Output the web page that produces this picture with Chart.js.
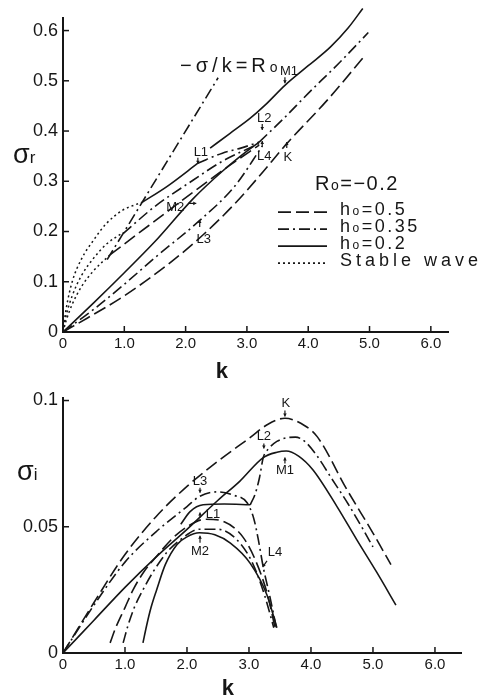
<!DOCTYPE html>
<html>
<head>
<meta charset="utf-8">
<script src="https://cdn.jsdelivr.net/npm/chart.js@4.4.1/dist/chart.umd.min.js"></script>
<style>
  html, body { margin: 0; padding: 0; background: #fff; }
  #wrap { position: relative; width: 501px; height: 699px; }
  canvas { position: absolute; left: 0; }
  #c1 { top: 0; }
  #c2 { top: 380px; }
</style>
</head>
<body>
<div id="wrap">
  <canvas id="c1" width="501" height="390"></canvas>
  <canvas id="c2" width="501" height="319"></canvas>
</div>
<script>
const INK = "#161616";
const FONT = '"Liberation Sans", Arial, sans-serif';

// ---- upper panel: sigma_r against k ----
const topXTicks = [0, 1, 2, 3, 4, 5, 6];
const topYTicks = [0, 0.1, 0.2, 0.3, 0.4, 0.5, 0.6];

// -sigma/k = Ro line (Ro = -0.2)
const ratioK = [0.72, 2.53];
const ratioS = [0.144, 0.506];

// stable waves (dotted)
const stab1K = [0, 0.05, 0.15, 0.3, 0.5, 0.7, 0.98, 1.15, 1.29];
const stab1S = [0, 0.045, 0.1, 0.145, 0.183, 0.215, 0.243, 0.252, 0.258];
const stab2K = [0, 0.05, 0.15, 0.3, 0.5, 0.7, 0.98];
const stab2S = [0, 0.032, 0.072, 0.112, 0.147, 0.174, 0.198];
const stab3K = [0, 0.05, 0.15, 0.3, 0.5, 0.77];
const stab3S = [0, 0.022, 0.055, 0.09, 0.122, 0.154];

// h0 = 0.2 (solid)
const sUpperK = [2.4, 2.72, 3.05, 3.3, 3.62, 4.0, 4.36, 4.65, 4.89];
const sUpperS = [0.366, 0.395, 0.425, 0.452, 0.491, 0.53, 0.567, 0.605, 0.644];
const sL1K = [1.29, 1.7, 2.2];
const sL1S = [0.258, 0.29, 0.336];
const sOriginK = [0, 0.5, 1.0, 1.5, 2.12, 2.6, 3.0, 3.2];
const sOriginS = [0, 0.058, 0.118, 0.18, 0.265, 0.32, 0.36, 0.378];

// h0 = 0.35 (dash-dot)
const ddL1K = [2.2, 2.6, 2.9, 3.2];
const ddL1S = [0.336, 0.356, 0.366, 0.378];
const ddMidK = [0.98, 1.5, 2.12, 2.6, 3.2];
const ddMidS = [0.196, 0.25, 0.302, 0.34, 0.375];
const ddOriginK = [0, 0.5, 1.0, 1.5, 2.23, 2.8, 3.25];
const ddOriginS = [0, 0.045, 0.095, 0.148, 0.222, 0.29, 0.37];
const ddUpperK = [3.2, 3.6, 4.0, 4.5, 4.98];
const ddUpperS = [0.378, 0.425, 0.475, 0.535, 0.596];

// h0 = 0.5 (dashed)
const dMidK = [0.77, 1.4, 2.12, 2.7, 3.2];
const dMidS = [0.154, 0.212, 0.278, 0.33, 0.372];
const dLowK = [0, 0.4, 1.0, 1.8, 2.3, 2.8, 3.2, 3.65, 4.3, 4.93];
const dLowS = [0, 0.028, 0.072, 0.143, 0.195, 0.255, 0.31, 0.375, 0.46, 0.551];

// ---- lower panel: sigma_i against k ----
const botXTicks = [0, 1, 2, 3, 4, 5, 6];
const botYTicks = [0, 0.05, 0.1];

const biSolidOuterK = [0, 0.5, 1.0, 1.5, 2.0, 2.5, 2.85, 3.23, 3.45, 3.6, 3.8, 4.03, 4.42, 4.74, 5.06, 5.37];
const biSolidOuterS = [0, 0.013, 0.026, 0.038, 0.049, 0.0605, 0.068, 0.0774, 0.0795, 0.080, 0.078, 0.0726, 0.058, 0.0448, 0.032, 0.019];
const biSolidInnerK = [1.29, 1.35, 1.42, 1.51, 1.65, 1.84, 2.0, 2.2, 2.45, 2.7, 3.02, 3.29, 3.45];
const biSolidInnerS = [0.004, 0.011, 0.018, 0.025, 0.035, 0.043, 0.046, 0.0476, 0.0468, 0.0435, 0.0355, 0.023, 0.01];
const biSolidFlatK = [1.9, 2.05, 2.26, 2.6, 3.02];
const biSolidFlatS = [0.051, 0.056, 0.0587, 0.059, 0.0587];

const biDashDotL3K = [0, 0.5, 1.0, 1.5, 2.0, 2.2, 2.48, 2.75, 2.97, 3.08, 3.15, 3.23, 3.34, 3.45];
const biDashDotL3S = [0, 0.019, 0.036, 0.048, 0.058, 0.062, 0.0638, 0.0625, 0.0595, 0.053, 0.045, 0.034, 0.022, 0.009];
const biDashDotOuterK = [3.02, 3.1, 3.17, 3.23, 3.32, 3.45, 3.6, 3.75, 3.9, 4.1, 4.31, 4.6, 4.84, 5.0];
const biDashDotOuterS = [0.0587, 0.063, 0.0695, 0.0774, 0.081, 0.0838, 0.0852, 0.0855, 0.0838, 0.078, 0.070, 0.059, 0.049, 0.042];
const biDashDotInnerK = [0.97, 1.05, 1.15, 1.29, 1.45, 1.68, 1.9, 2.2, 2.5, 2.8, 3.05, 3.25, 3.4];
const biDashDotInnerS = [0.004, 0.011, 0.018, 0.025, 0.032, 0.04, 0.045, 0.049, 0.049, 0.045, 0.036, 0.023, 0.01];

const biDashedOuterK = [0, 0.5, 1.0, 1.5, 2.0, 2.5, 3.0, 3.3, 3.58, 3.9, 4.1, 4.58, 5.0, 5.29];
const biDashedOuterS = [0, 0.02, 0.039, 0.054, 0.066, 0.076, 0.085, 0.0905, 0.093, 0.09, 0.0857, 0.0647, 0.0475, 0.035];
const biDashedInnerK = [0.76, 0.85, 1.0, 1.13, 1.3, 1.5, 1.75, 2.0, 2.3, 2.6, 2.9, 3.1, 3.3, 3.42];
const biDashedInnerS = [0.004, 0.01, 0.018, 0.025, 0.032, 0.038, 0.045, 0.05, 0.053, 0.052, 0.046, 0.037, 0.023, 0.01];

// line styles
const SOLID = [];
const DASHED = [13, 5];
const DASHDOT = [11, 4, 2, 4];
const DOTTED = [2, 3];

function pts(ks, ss) {
  return ks.map((k, i) => ({ x: k, y: ss[i] }));
}

function curve(ks, ss, dash) {
  return {
    data: pts(ks, ss),
    borderColor: INK,
    borderWidth: dash === DOTTED ? 1.5 : 1.6,
    borderDash: dash,
    pointRadius: 0,
    fill: false,
    clip: false, // the h0=0.2 curve runs a little past the top of the axis
    cubicInterpolationMode: "monotone",
  };
}

// labels with small arrows: tip in data units, text/arrow offsets in px
const topNotes = [
  { text: "L1", k: 2.2, s: 0.333, tx: 3, ty: -12, ax: 0, ay: -7 },
  { text: "L2", k: 3.25, s: 0.40, tx: 2, ty: -13, ax: 0, ay: -7 },
  { text: "L4", k: 3.25, s: 0.382, tx: 2, ty: 16, ax: 0, ay: 7 },
  { text: "K", k: 3.65, s: 0.38, tx: 1, ty: 16, ax: 0, ay: 7 },
  { text: "M1", k: 3.62, s: 0.493, tx: 4, ty: -13, ax: 0, ay: -7 },
  { text: "M2", k: 2.19, s: 0.256, tx: -22, ty: 4, ax: -9, ay: 0 },
  { text: "L3", k: 2.23, s: 0.225, tx: 4, ty: 20, ax: 0, ay: 8 },
];
const botNotes = [
  { text: "K", k: 3.58, s: 0.0933, tx: 1, ty: -14, ax: 0, ay: -7 },
  { text: "L2", k: 3.24, s: 0.0806, tx: 0, ty: -13, ax: 0, ay: -6 },
  { text: "M1", k: 3.58, s: 0.0778, tx: 0, ty: 14, ax: 0, ay: 7 },
  { text: "L3", k: 2.21, s: 0.0631, tx: 0, ty: -12, ax: 0, ay: -6 },
  { text: "L1", k: 2.21, s: 0.0560, tx: 13, ty: 3, ax: 0, ay: 6 },
  { text: "M2", k: 2.21, s: 0.0468, tx: 0, ty: 17, ax: 0, ay: 8 },
  { text: "L4", k: 3.21, s: 0.0337, tx: 13, ty: -15, ax: 5, ay: -7 },
];

function drawRich(ctx, parts, x, y, spacing) {
  let cx = x;
  ctx.letterSpacing = (spacing || 0) + "px";
  parts.forEach(([t, size]) => {
    ctx.font = size + "px " + FONT;
    ctx.fillText(t, cx, y);
    cx += ctx.measureText(t).width;
  });
  ctx.letterSpacing = "0px";
}

function drawNotes(ctx, xs, ys, notes) {
  ctx.font = "13px " + FONT;
  ctx.textAlign = "center";
  ctx.textBaseline = "middle";
  ctx.lineWidth = 1.2;
  notes.forEach(n => {
    const px = xs.getPixelForValue(n.k);
    const py = ys.getPixelForValue(n.s);
    ctx.fillText(n.text, px + n.tx, py + n.ty);
    const len = Math.hypot(n.ax, n.ay);
    const ux = n.ax / len, uy = n.ay / len;
    ctx.beginPath();
    ctx.moveTo(px + n.ax, py + n.ay);
    ctx.lineTo(px + ux, py + uy);
    ctx.stroke();
    // arrow head
    ctx.beginPath();
    ctx.moveTo(px + ux, py + uy);
    ctx.lineTo(px + ux * 4 - uy * 1.8, py + uy * 4 + ux * 1.8);
    ctx.lineTo(px + ux * 4 + uy * 1.8, py + uy * 4 - ux * 1.8);
    ctx.closePath();
    ctx.fill();
  });
}

function makeDecor(notes, extra) {
  return {
    id: "decor",
    afterDraw(chart) {
      const ctx = chart.ctx;
      const xs = chart.scales.x, ys = chart.scales.y, a = chart.chartArea;
      ctx.save();
      ctx.strokeStyle = INK;
      ctx.fillStyle = INK;
      ctx.lineWidth = 1.5;
      // ticks point inwards
      xs.ticks.forEach(t => {
        if (t.value === 0) return;
        const p = xs.getPixelForValue(t.value);
        ctx.beginPath(); ctx.moveTo(p, a.bottom); ctx.lineTo(p, a.bottom - 6); ctx.stroke();
      });
      ys.ticks.forEach(t => {
        if (t.value === 0) return;
        const p = ys.getPixelForValue(t.value);
        ctx.beginPath(); ctx.moveTo(a.left, p); ctx.lineTo(a.left + 6, p); ctx.stroke();
      });
      drawNotes(ctx, xs, ys, notes);
      ctx.textAlign = "left";
      ctx.textBaseline = "alphabetic";
      extra(ctx, xs, ys, a);
      ctx.restore();
    },
  };
}

function baseOptions(o) {
  return {
    responsive: false,
    animation: false,
    layout: { padding: o.padding },
    plugins: { legend: { display: false }, tooltip: { enabled: false } },
    scales: {
      x: {
        type: "linear",
        min: 0,
        max: o.xMax,
        border: { display: true, color: INK, width: 2 },
        grid: { display: false, drawTicks: false },
        afterBuildTicks: s => { s.ticks = o.xTicks.map(v => ({ value: v })); },
        afterFit: s => { s.height = o.xHeight; },
        ticks: {
          color: INK,
          padding: 3,
          maxRotation: 0,
          font: { family: FONT, size: 15 },
          callback: v => (v === 0 ? "0" : v.toFixed(1)),
        },
      },
      y: {
        type: "linear",
        min: 0,
        max: o.yMax,
        border: { display: true, color: INK, width: 2 },
        grid: { display: false, drawTicks: false },
        afterBuildTicks: s => { s.ticks = o.yTicks.map(v => ({ value: v })); },
        afterFit: s => { s.width = 63; },
        ticks: {
          color: INK,
          padding: 5,
          font: { family: FONT, size: 18 },
          callback: o.yFmt,
        },
      },
    },
  };
}

// legend rows for the upper panel
const legendRows = [
  { dash: DASHED, label: "0.5" },
  { dash: DASHDOT, label: "0.35" },
  { dash: SOLID, label: "0.2" },
  { dash: DOTTED, label: null },
];

const topExtra = (ctx, xs, ys, a) => {
  // axis titles
  drawRich(ctx, [["σ", 27], ["r", 17]], a.left - 50, ys.getPixelForValue(0.336), 0);
  ctx.font = "bold 22px " + FONT;
  ctx.textAlign = "center";
  ctx.fillText("k", xs.getPixelForValue(2.59), a.bottom + 46);
  ctx.textAlign = "left";
  // -sigma/k = Ro
  drawRich(ctx, [["−σ/k=R", 20], ["o", 14]], xs.getPixelForValue(1.91), ys.getPixelForValue(0.517), 4);
  // legend block
  const lx = xs.getPixelForValue(3.507), ly = ys.getPixelForValue(0.2326);
  drawRich(ctx, [["R", 20], ["o", 14], ["=−0.2", 20]], lx + 37, ly - 25, 1.5);
  legendRows.forEach((r, i) => {
    const y = ly + i * 17;
    ctx.save();
    ctx.lineWidth = 1.6;
    ctx.setLineDash(r.dash);
    ctx.beginPath(); ctx.moveTo(lx, y - 3); ctx.lineTo(lx + 49, y - 3); ctx.stroke();
    ctx.restore();
    if (r.label) drawRich(ctx, [["h", 18], ["o", 12], ["=" + r.label, 18]], lx + 62, y, 2.5);
    else drawRich(ctx, [["Stable wave", 18]], lx + 62, y, 4);
  });
};

const botExtra = (ctx, xs, ys, a) => {
  drawRich(ctx, [["σ", 27], ["i", 17]], a.left - 46, ys.getPixelForValue(0.0687), 0);
  ctx.font = "bold 22px " + FONT;
  ctx.textAlign = "center";
  ctx.fillText("k", xs.getPixelForValue(2.66), a.bottom + 42);
};

new Chart(document.getElementById("c1").getContext("2d"), {
  type: "line",
  data: {
    datasets: [
      curve(ratioK, ratioS, DASHDOT),
      curve(stab1K, stab1S, DOTTED),
      curve(stab2K, stab2S, DOTTED),
      curve(stab3K, stab3S, DOTTED),
      curve(sUpperK, sUpperS, SOLID),
      curve(sL1K, sL1S, SOLID),
      curve(sOriginK, sOriginS, SOLID),
      curve(ddL1K, ddL1S, DASHDOT),
      curve(ddMidK, ddMidS, DASHDOT),
      curve(ddOriginK, ddOriginS, DASHDOT),
      curve(ddUpperK, ddUpperS, DASHDOT),
      curve(dMidK, dMidS, DASHED),
      curve(dLowK, dLowS, DASHED),
    ],
  },
  options: baseOptions({
    padding: { top: 18, right: 53, left: 0, bottom: 0 },
    xMax: 6.28, yMax: 0.625, xHeight: 58,
    xTicks: topXTicks, yTicks: topYTicks,
    yFmt: v => (v === 0 ? "0" : v.toFixed(1)),
  }),
  plugins: [makeDecor(topNotes, topExtra)],
});

new Chart(document.getElementById("c2").getContext("2d"), {
  type: "line",
  data: {
    datasets: [
      curve(biSolidOuterK, biSolidOuterS, SOLID),
      curve(biSolidInnerK, biSolidInnerS, SOLID),
      curve(biSolidFlatK, biSolidFlatS, SOLID),
      curve(biDashDotL3K, biDashDotL3S, DASHDOT),
      curve(biDashDotOuterK, biDashDotOuterS, DASHDOT),
      curve(biDashDotInnerK, biDashDotInnerS, DASHDOT),
      curve(biDashedOuterK, biDashedOuterS, DASHED),
      curve(biDashedInnerK, biDashedInnerS, DASHED),
    ],
  },
  options: baseOptions({
    padding: { top: 18, right: 40, left: 0, bottom: 0 },
    xMax: 6.42, yMax: 0.101, xHeight: 46,
    xTicks: botXTicks, yTicks: botYTicks,
    yFmt: v => (v === 0 ? "0" : String(v)),
  }),
  plugins: [makeDecor(botNotes, botExtra)],
});
</script>
</body>
</html>
